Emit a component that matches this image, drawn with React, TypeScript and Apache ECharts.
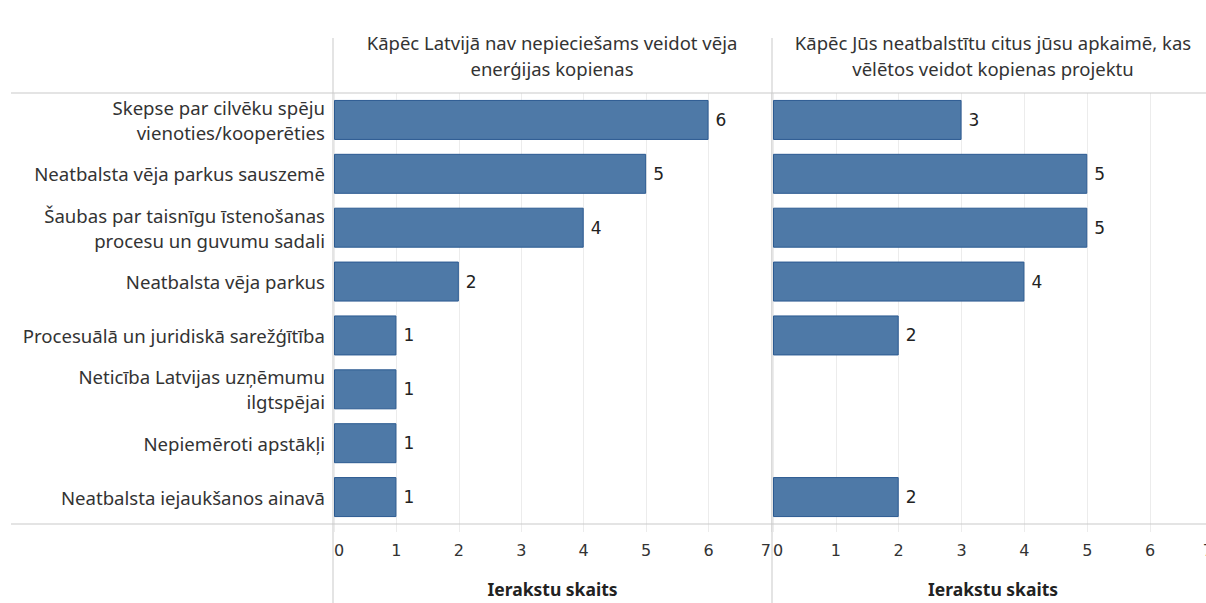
import React, { useEffect, useRef } from "react";
import * as echarts from "echarts";

const categories = [
  "Skepse par cilvēku spēju\nvienoties/kooperēties",
  "Neatbalsta vēja parkus sauszemē",
  "Šaubas par taisnīgu īstenošanas\nprocesu un guvumu sadali",
  "Neatbalsta vēja parkus",
  "Procesuālā un juridiskā sarežģītība",
  "Neticība Latvijas uzņēmumu\nilgtspējai",
  "Nepiemēroti apstākļi",
  "Neatbalsta iejaukšanos ainavā",
];
const leftValues: (number | null)[] = [6, 5, 4, 2, 1, 1, 1, 1];
const rightValues: (number | null)[] = [3, 5, 5, 4, 2, null, null, 2];
const titles = [
  "Kāpēc Latvijā nav nepieciešams veidot vēja\nenerģijas kopienas",
  "Kāpēc Jūs neatbalstītu citus jūsu apkaimē, kas\nvēlētos veidot kopienas projektu",
];
const axisName = "Ierakstu skaits";

const FONT = "'Noto Sans', 'DejaVu Sans', sans-serif";
const NUMFONT = "'DejaVu Sans', sans-serif";
const BAR = "#4e79a7";
const BORDER = "#2b5a91";
const LINE = "#c9c9c9";

export default function App() {
  const ref = useRef<HTMLDivElement>(null);
  useEffect(() => {
    const chart = echarts.init(ref.current!, undefined, { renderer: "svg" });
    const xAxisBase = (idx: number) => ({
      type: "value",
      gridIndex: idx,
      min: 0,
      max: 7,
      interval: 1,
      name: axisName,
      nameLocation: "middle",
      nameGap: 56,
      nameTextStyle: { fontFamily: FONT, fontSize: 17.5, fontWeight: "bold", color: "#222" },
      axisLine: { show: false },
      axisTick: { show: true, length: 8, lineStyle: { color: "#ececec" } },
      axisLabel: {
        fontFamily: NUMFONT,
        fontSize: 16,
        color: "#333",
        margin: 18,
        alignMinLabel: "left",
        alignMaxLabel: "right",
      },
      splitLine: { show: true, lineStyle: { color: "#ececec", width: 1 } },
    });
    const yAxisBase = (idx: number, showLabels: boolean) => ({
      type: "category",
      gridIndex: idx,
      data: categories,
      inverse: true,
      axisLine: { show: false },
      axisTick: { show: false },
      splitLine: { show: false },
      axisLabel: showLabels
        ? {
            show: true,
            fontFamily: FONT,
            fontSize: 18.6,
            color: "#333",
            margin: 9,
            lineHeight: 25,
            align: "right",
          }
        : { show: false },
    });
    const seriesBase = (idx: number, data: (number | null)[]) => ({
      type: "bar",
      xAxisIndex: idx,
      yAxisIndex: idx,
      data,
      barWidth: 40,
      itemStyle: { color: BAR, borderColor: BORDER, borderWidth: 1 },
      label: {
        show: true,
        position: "right",
        distance: 7,
        fontFamily: NUMFONT,
        fontSize: 17,
        color: "#222",
      },
    });
    chart.setOption({
      animation: false,
      backgroundColor: "#ffffff",
      grid: [
        { left: 334, top: 93, width: 437, height: 431, containLabel: false },
        { left: 773, top: 93, width: 440, height: 431, containLabel: false },
      ],
      xAxis: [xAxisBase(0), xAxisBase(1)],
      yAxis: [yAxisBase(0, true), yAxisBase(1, false)],
      series: [seriesBase(0, leftValues), seriesBase(1, rightValues)],
      graphic: [
        { type: "line", shape: { x1: 11, y1: 93, x2: 1240, y2: 93 }, style: { stroke: LINE, lineWidth: 1 }, z: 10 },
        { type: "line", shape: { x1: 11, y1: 524, x2: 1240, y2: 524 }, style: { stroke: LINE, lineWidth: 1 }, z: 10 },
        { type: "line", shape: { x1: 333, y1: 38, x2: 333, y2: 603 }, style: { stroke: LINE, lineWidth: 1 }, z: 10 },
        { type: "line", shape: { x1: 772, y1: 38, x2: 772, y2: 603 }, style: { stroke: LINE, lineWidth: 1 }, z: 10 },
        {
          type: "text",
          x: 552,
          y: 55,
          style: {
            text: titles[0],
            fontFamily: FONT,
            fontSize: 18.5,
            lineHeight: 26,
            fill: "#333",
            align: "center",
            verticalAlign: "middle",
          },
        },
        {
          type: "text",
          x: 993,
          y: 55,
          style: {
            text: titles[1],
            fontFamily: FONT,
            fontSize: 18.5,
            lineHeight: 26,
            fill: "#333",
            align: "center",
            verticalAlign: "middle",
          },
        },
      ],
    });
    return () => chart.dispose();
  }, []);
  return (
    <div style={{ position: "fixed", left: 0, top: 0, width: 1206, height: 603, overflow: "hidden" }}>
      <div ref={ref} style={{ width: 1240, height: 603 }} />
    </div>
  );
}
